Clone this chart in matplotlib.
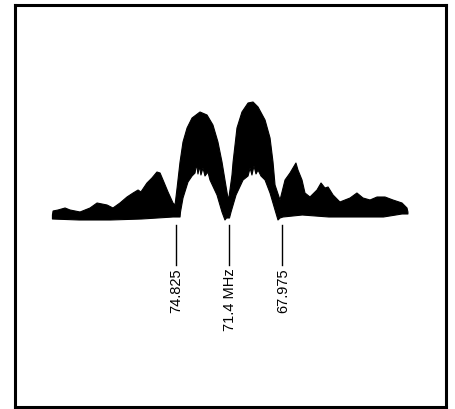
import numpy as np
import matplotlib
matplotlib.use("Agg")
import matplotlib.pyplot as plt

# spectrum envelope (frequency in MHz, amplitude in arbitrary units)
upper_freq = [82.72, 82.68, 82.36, 81.91, 81.59, 80.95, 80.31, 79.86, 79.22, 78.84,
              78.39, 77.94, 77.55, 77.23, 77.05, 76.66, 76.34, 76.02, 75.82, 75.63,
              75.31, 74.99, 74.86, 74.73, 74.54, 74.35, 74.09, 73.77, 73.26, 72.81,
              72.43, 72.11, 71.85, 71.66, 71.50, 71.43, 71.34, 71.21, 71.14, 70.89,
              70.57, 70.18, 69.86, 69.54, 69.09, 68.77, 68.58, 68.45, 68.13, 67.81,
              67.49, 67.11, 66.98, 66.72, 66.53, 66.21, 65.76, 65.5, 65.25, 65.05,
              64.73, 64.29, 63.64, 63.2, 62.81, 62.36, 61.91, 61.4, 60.89, 60.31,
              59.99, 59.93]
upper_amp = [5, 9, 10, 12, 10, 8, 12, 17, 15, 12,
             17, 23, 27, 30, 28, 37, 42, 48, 47, 40,
             28, 17, 15, 32, 58, 78, 92, 102, 108, 105,
             95, 78, 58, 40, 25, 20, 30, 45, 58, 92,
             108, 117, 118, 113, 100, 82, 58, 35, 20, 40,
             47, 57, 50, 40, 27, 23, 30, 37, 32, 33,
             25, 18, 22, 27, 22, 20, 23, 23, 20, 17,
             12, 8]

lower_freq = [59.93, 60.31, 61.5, 63.0, 65.0, 66.7, 67.94, 68.13, 68.26, 68.45,
              68.77, 69.09, 69.35, 69.54, 69.67, 69.80, 69.93, 70.05, 70.18, 70.50,
              70.95, 71.27, 71.37, 71.46, 71.56, 71.66, 71.85, 72.17, 72.62, 72.75,
              72.94, 73.07, 73.20, 73.29, 73.39, 73.48, 73.58, 73.77, 74.03, 74.35,
              74.51, 74.54, 74.73, 74.99, 77.0, 79.0, 81.0, 82.72]
lower_amp = [6, 6, 3, 3, 3, 5, 3, 2, 0, 10,
             27, 40, 44, 50, 46, 54, 45, 52, 44, 40,
             25, 8, 2, 2, 2, 0, 8, 25, 40, 48,
             44, 52, 45, 54, 46, 56, 47, 44, 38, 22,
             8, 3, 3, 3, 1, 0, 0, 1]

marker_freq = [74.825, 71.4, 67.975]
marker_text = ["74.825", "71.4 MHz", "67.975"]

fig = plt.figure(figsize=(4.55, 4.09), dpi=100)
ax = fig.add_axes([15 / 455, 2 / 409, 431 / 455, 402 / 409])

poly_f = np.concatenate([upper_freq, lower_freq])
poly_a = np.concatenate([upper_amp, lower_amp])
ax.fill(poly_f, poly_a, color="black", lw=0.8, joinstyle="round")

for f, t in zip(marker_freq, marker_text):
    ax.plot([f, f], [-5, -45], color="black", lw=1.0)
    ax.text(f - 0.05, -48, t, rotation=90, ha="center", va="top",
            fontsize=10.5, family="Liberation Sans")

ax.set_xlim(85.12, 57.49)
ax.set_ylim(-187, 215)
ax.set_xticks([])
ax.set_yticks([])
for s in ax.spines.values():
    s.set_linewidth(2.2)

fig.savefig("out.png", dpi=100)
